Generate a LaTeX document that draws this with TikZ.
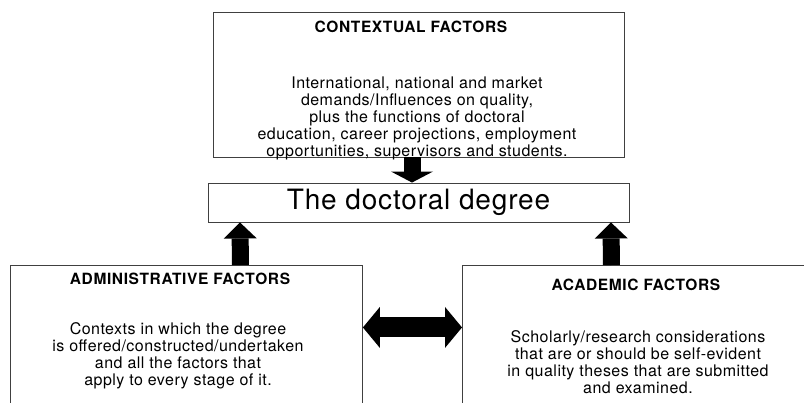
\documentclass[tikz,border=0pt]{standalone}
\usepackage{fontspec}
\setmainfont{TeX Gyre Heros}
\newfontfamily\diagfont{TeX Gyre Heros}[LetterSpace=3]
\newfontfamily\headfont{TeX Gyre Heros}[LetterSpace=4]
\usepackage{tikz}
\usetikzlibrary{positioning, arrows.meta, calc}

\tikzset{
    box/.style={draw=black!75, line width=0.9pt, inner sep=0pt},
    heading/.style={font=\headfont\fontsize{15.5}{17}\selectfont\bfseries, inner sep=0pt},
    body/.style={font=\diagfont\fontsize{16}{17}\selectfont, align=center, inner sep=0pt},
    downarrow/.style={line width=17pt, -{Triangle[length=11pt, width=42pt, line width=0pt]}},
    uparrow/.style={line width=17pt, -{Triangle[length=16pt, width=33pt, line width=0pt]}},
    botharrow/.style={line width=20pt, {Triangle[length=17pt, width=41pt, line width=0pt]}-{Triangle[length=17pt, width=41pt, line width=0pt]}},
}

\begin{document}
\begin{tikzpicture}[x=1pt, y=-1pt]
    \useasboundingbox (0,0) rectangle (804,403);

    % boxes
    \node[box, minimum width=411, minimum height=145] (ctx) at (418.5,84.5) {};
    \node[box, minimum width=421, minimum height=39,
          font=\diagfont\fontsize{28}{30}\selectfont] (deg) at (418.5,202.5) {The doctoral degree};
    \node[box, minimum width=352, minimum height=160, anchor=north west] (adm) at (10,265) {};
    \node[box, minimum width=360, minimum height=160, anchor=north west] (acad) at (462,265) {};

    % texts
    \node[heading] (ctxtitle) at (411,27) {CONTEXTUAL FACTORS};
    \node[body] (ctxbody) at (417,118.5) {International, national and market\\
        demands/Influences on quality,\\
        plus the functions of doctoral\\
        education, career projections, employment\\
        opportunities, supervisors and students.};
    \node[heading] (admtitle) at (180,278.5) {ADMINISTRATIVE FACTORS};
    \node[body] (admbody) at (178,356) {Contexts in which the degree\\
        is offered/constructed/undertaken\\
        and all the factors that\\
        apply to every stage of it.};
    \node[heading] (acadtitle) at (636,285) {ACADEMIC FACTORS};
    \node[body] (acadbody) at (638,362.5) {Scholarly/research considerations\\
        that are or should be self-evident\\
        in quality theses that are submitted\\
        and examined.};

    % arrows
    \draw[downarrow] ([xshift=-6.5pt]ctx.south) -- ([xshift=-6.5pt]deg.north);
    \draw[uparrow] ([xshift=54pt]adm.north) -- ([xshift=-178.5pt]deg.south);
    \draw[uparrow] ([xshift=-31pt]acad.north) -- ([xshift=192.5pt]deg.south);
    \draw[botharrow] ([yshift=18pt]adm.east) -- ([yshift=18pt]acad.west);
\end{tikzpicture}
\end{document}
